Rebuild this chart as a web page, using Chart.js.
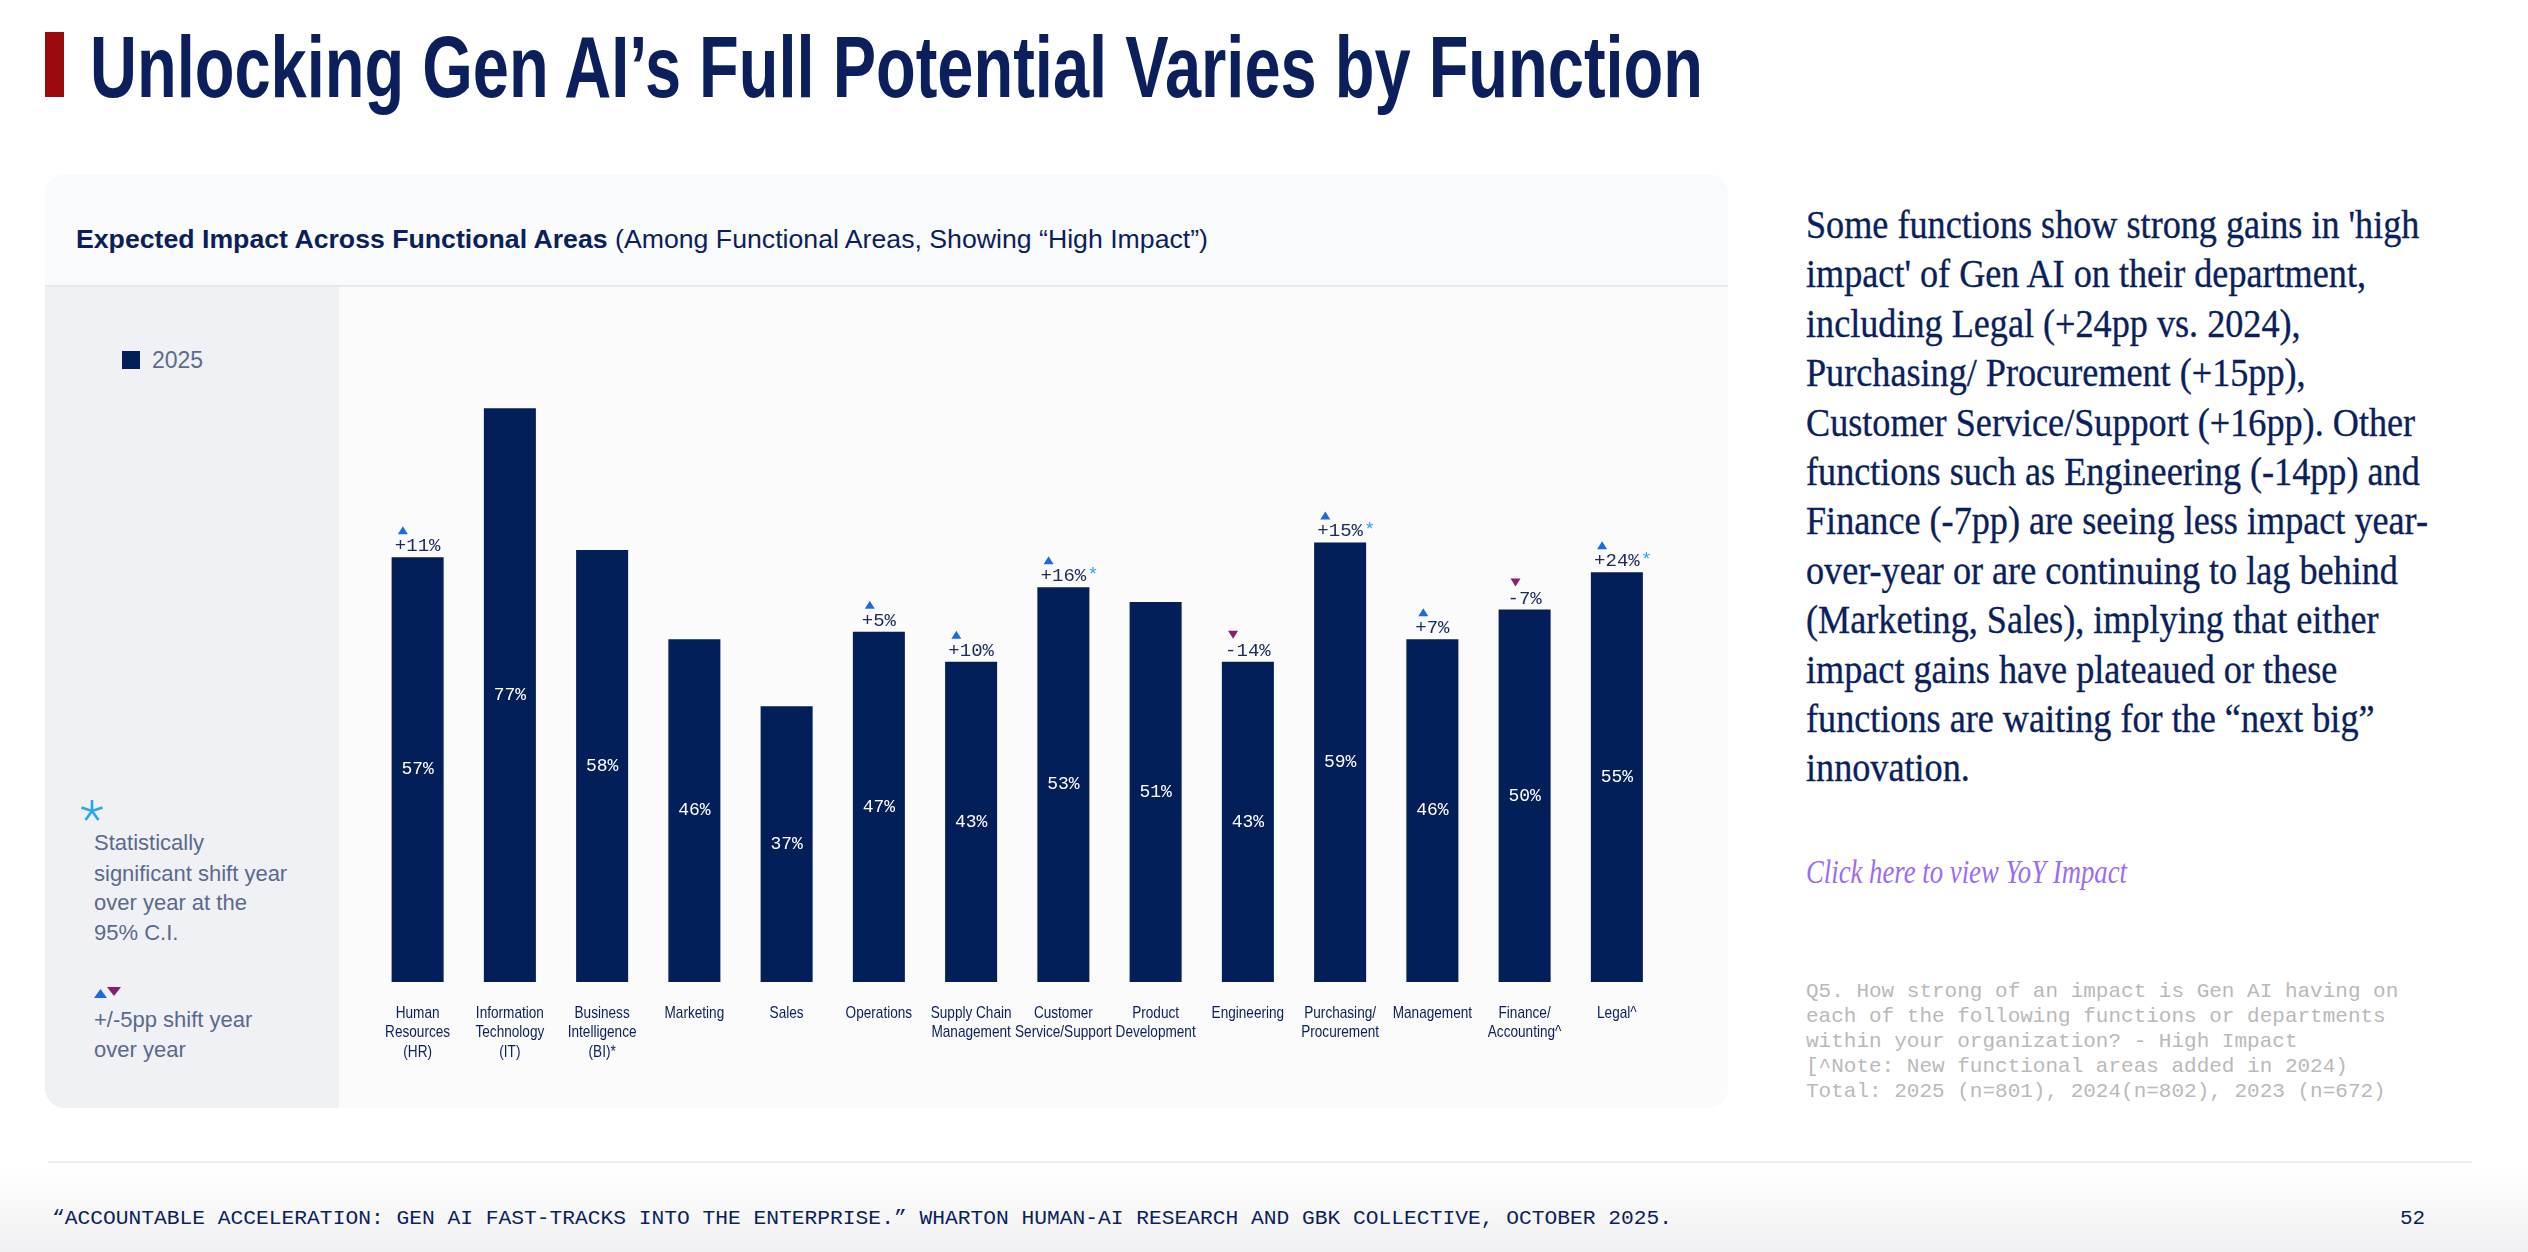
<!DOCTYPE html>
<html><head><meta charset="utf-8">
<script src="https://cdn.jsdelivr.net/npm/chart.js@4.4.0/dist/chart.umd.min.js"></script>
<style>
html,body{margin:0;padding:0;background:#fff;width:2528px;height:1252px;overflow:hidden;position:relative;font-family:"Liberation Sans",Arial,sans-serif;}
.abs{position:absolute;white-space:nowrap;}
.fit{display:inline-block;transform-origin:left center;}
#titlebar{left:45px;top:32px;width:19px;height:65px;background:#9b0b0b;}
#title{left:90px;top:23px;font:bold 87px/87px "Liberation Sans Narrow","Liberation Sans",sans-serif;color:#0a1f5c;}
#card{left:45px;top:174px;width:1683px;height:934px;border-radius:20px;background:#f9fafb;}
#divider{left:45px;top:285px;width:1683px;height:2px;background:#e6e8eb;}
#panel{left:45px;top:287px;width:294px;height:821px;background:#eff1f4;border-bottom-left-radius:20px;}
#plotbg{left:339px;top:287px;width:1389px;height:821px;background:#fbfbfc;border-bottom-right-radius:20px;}
#hdr{left:76px;top:224px;font:25px/30px "Liberation Sans",sans-serif;color:#0b1f5c;}
.pt{font:22px/30px "Liberation Sans",sans-serif;color:#5a6a8c;left:94px;}
#summary{left:1806px;top:200px;font:39px/49.4px "Liberation Serif",serif;color:#0b1f5c;-webkit-text-stroke:0.35px #0b1f5c;}
#link{left:1806px;top:854px;font:italic 33px/36px "Liberation Serif",serif;color:#9b6cf2;text-decoration:underline;}
#foot{left:1806px;top:979px;font:21px/25px "Liberation Mono",monospace;color:#b9b9b9;}
#footline{left:48px;top:1161px;width:2424px;height:2px;background:#efefef;}
#footbg{left:0;top:1168px;width:2528px;height:84px;background:linear-gradient(#ffffff,#f0f0f2);}
#src{left:52px;top:1206px;font:21px/26px "Liberation Mono",monospace;color:#0b1f5c;}
#page{left:2400px;top:1206px;font:21px/26px "Liberation Mono",monospace;color:#0b1f5c;}
canvas{position:absolute;left:339px;top:286px;}
</style></head>
<body>
<div class="abs" id="titlebar"></div>
<div class="abs" id="title"><span class="fit" id="titleText">Unlocking Gen AI’s Full Potential Varies by Function</span></div>
<div class="abs" id="card"></div>
<div class="abs" id="plotbg"></div>
<div class="abs" id="panel"></div>
<div class="abs" id="divider"></div>
<div class="abs" id="hdr"><span class="fit" id="hdrText"><b>Expected Impact Across Functional Areas</b> (Among Functional Areas, Showing “High Impact”)</span></div>

<div class="abs" style="left:122px;top:351px;width:18px;height:18px;background:#021f59;"></div>
<div class="abs" style="left:152px;top:345px;font:23px/30px 'Liberation Sans',sans-serif;color:#5d6b8a;" id="legendText"></div>

<svg class="abs" style="left:80px;top:799px" width="24" height="24" viewBox="-12 -12 24 24">
<g stroke="#27a6ef" stroke-width="2.6" stroke-linecap="butt">
<line x1="0" y1="-11" x2="0" y2="0"/>
<line x1="0" y1="0" x2="10.5" y2="-3.4"/>
<line x1="0" y1="0" x2="-10.5" y2="-3.4"/>
<line x1="0" y1="0" x2="6.5" y2="8.9"/>
<line x1="0" y1="0" x2="-6.5" y2="8.9"/>
</g></svg>
<div class="abs pt" style="top:828px">Statistically</div>
<div class="abs pt" style="top:859px">significant shift year</div>
<div class="abs pt" style="top:888px">over year at the</div>
<div class="abs pt" style="top:918px">95% C.I.</div>
<svg class="abs" style="left:93px;top:984px" width="30" height="16">
<polygon points="1,14 14,14 7.5,5" fill="#1a6be3"/>
<polygon points="14,3 28,3 21,12" fill="#8b1d6e"/>
</svg>
<div class="abs pt" style="top:1005px">+/-5pp shift year</div>
<div class="abs pt" style="top:1035px">over year</div>

<canvas id="chart" width="1389" height="822"></canvas>

<div class="abs" id="summary"></div>
<div class="abs" id="link"><span class="fit" id="linkText">Click here to view YoY Impact</span></div>
<div class="abs" id="foot"></div>
<div class="abs" id="footbg"></div>
<div class="abs" id="footline"></div>
<div class="abs" id="src"><span class="fit" id="srcText">“ACCOUNTABLE ACCELERATION: GEN AI FAST-TRACKS INTO THE ENTERPRISE.” WHARTON HUMAN-AI RESEARCH AND GBK COLLECTIVE, OCTOBER 2025.</span></div>
<div class="abs" id="page">52</div>

<script>
// ---- data ----
const categories = [
  ["Human","Resources","(HR)"],
  ["Information","Technology","(IT)"],
  ["Business","Intelligence","(BI)*"],
  ["Marketing"],
  ["Sales"],
  ["Operations"],
  ["Supply Chain","Management"],
  ["Customer","Service/Support"],
  ["Product","Development"],
  ["Engineering"],
  ["Purchasing/","Procurement"],
  ["Management"],
  ["Finance/","Accounting^"],
  ["Legal^"]
];
const seriesName = "2025";
const values2025 = [57, 77, 58, 46, 37, 47, 43, 53, 51, 43, 59, 46, 50, 55];
const yoyChange = [11, null, null, null, null, 5, 10, 16, null, -14, 15, 7, -7, 24];
const significant = [false, false, false, false, false, false, false, true, false, false, true, false, false, true];
const yAxisMax = 80;

const summaryLines = [
  "Some functions show strong gains in 'high",
  "impact' of Gen AI on their department,",
  "including Legal (+24pp vs. 2024),",
  "Purchasing/ Procurement (+15pp),",
  "Customer Service/Support (+16pp). Other",
  "functions such as Engineering (-14pp) and",
  "Finance (-7pp) are seeing less impact year-",
  "over-year or are continuing to lag behind",
  "(Marketing, Sales), implying that either",
  "impact gains have plateaued or these",
  "functions are waiting for the “next big”",
  "innovation."
];
const footLines = [
  "Q5. How strong of an impact is Gen AI having on",
  "each of the following functions or departments",
  "within your organization? - High Impact",
  "[^Note: New functional areas added in 2024)",
  "Total: 2025 (n=801), 2024(n=802), 2023 (n=672)"
];

// ---- text blocks ----
document.getElementById('legendText').textContent = seriesName;
const sum = document.getElementById('summary');
summaryLines.forEach(l => { const d = document.createElement('div'); d.textContent = l; sum.appendChild(d); });
const ft = document.getElementById('foot');
footLines.forEach(l => { const d = document.createElement('div'); d.textContent = l; ft.appendChild(d); });

function fit(id, w) {
  const el = document.getElementById(id);
  const r = el.getBoundingClientRect().width;
  el.style.transform = 'scaleX(' + (w / r) + ')';
}
fit('titleText', 1613);
fit('hdrText', 1132);
fit('linkText', 321);
fit('srcText', 1620);
(function(){
  const ref = sum.children[6];
  const span = document.createElement('span'); span.textContent = ref.textContent; span.style.whiteSpace='nowrap';
  ref.textContent=''; ref.appendChild(span);
  const w = span.getBoundingClientRect().width;
  sum.style.transformOrigin = 'left top';
  sum.style.transform = 'scaleX(' + (622 / w) + ')';
})();

// ---- chart ----
const labelPlugin = {
  id: 'barLabels',
  afterDatasetsDraw(chart) {
    const ctx = chart.ctx;
    const meta = chart.getDatasetMeta(0);
    meta.data.forEach((bar, i) => {
      ctx.save();
      ctx.textAlign = 'center';
      ctx.textBaseline = 'middle';
      ctx.font = '18px "Liberation Mono", monospace';
      ctx.fillStyle = '#ffffff';
      ctx.fillText(values2025[i] + '%', bar.x, (bar.y + bar.base) / 2);
      const d = yoyChange[i];
      if (d !== null) {
        const txt = (d > 0 ? '+' : '-') + Math.abs(d) + '%';
        ctx.font = '19px "Liberation Mono", monospace';
        ctx.fillStyle = '#1b2a5c';
        const ty = bar.y - 11;
        ctx.fillText(txt, bar.x, ty);
        const tw = ctx.measureText(txt).width;
        if (significant[i]) {
          ctx.fillStyle = '#27a6ef';
          ctx.textAlign = 'left';
          ctx.fillText('*', bar.x + tw / 2 + 1, ty - 1);
        }
        const tx = bar.x - tw / 2 + 8;
        const tyy = bar.y - 27;
        ctx.beginPath();
        if (d > 0) { ctx.moveTo(tx - 5, tyy + 4); ctx.lineTo(tx + 5, tyy + 4); ctx.lineTo(tx, tyy - 4); }
        else { ctx.moveTo(tx - 5, tyy - 4); ctx.lineTo(tx + 5, tyy - 4); ctx.lineTo(tx, tyy + 4); }
        ctx.closePath();
        ctx.fillStyle = d > 0 ? '#1a6be3' : '#8b1d6e';
        ctx.fill();
      }
      ctx.restore();
    });
  },
  afterDraw(chart) {
    const ctx = chart.ctx;
    const xs = chart.scales.x;
    const base = chart.chartArea.bottom + 31;
    categories.forEach((lines, i) => {
      const x = xs.getPixelForValue(i);
      lines.forEach((t, j) => {
        ctx.save();
        ctx.translate(x, base + j * 19.5);
        ctx.scale(0.8, 1);
        ctx.font = '17px "Liberation Sans", sans-serif';
        ctx.fillStyle = '#0b1f5c';
        ctx.textAlign = 'center';
        ctx.textBaseline = 'middle';
        ctx.fillText(t, 0, 0);
        ctx.restore();
      });
    });
  }
};

new Chart(document.getElementById('chart'), {
  type: 'bar',
  data: {
    labels: categories,
    datasets: [{
      label: seriesName,
      data: values2025,
      backgroundColor: '#021f59',
      borderWidth: 0,
      barPercentage: 0.564,
      categoryPercentage: 1
    }]
  },
  options: {
    responsive: false,
    devicePixelRatio: 1,
    animation: false,
    layout: { padding: { left: 32.5, right: 65, top: 100, bottom: 0 } },
    plugins: { legend: { display: false }, tooltip: { enabled: false } },
    scales: {
      x: {
        grid: { display: false, drawTicks: false },
        border: { display: false },
        ticks: { display: false },
        afterFit(scale) { scale.height = 126; }
      },
      y: {
        display: false,
        min: 0,
        max: yAxisMax
      }
    }
  },
  plugins: [labelPlugin]
});
</script>
</body></html>
